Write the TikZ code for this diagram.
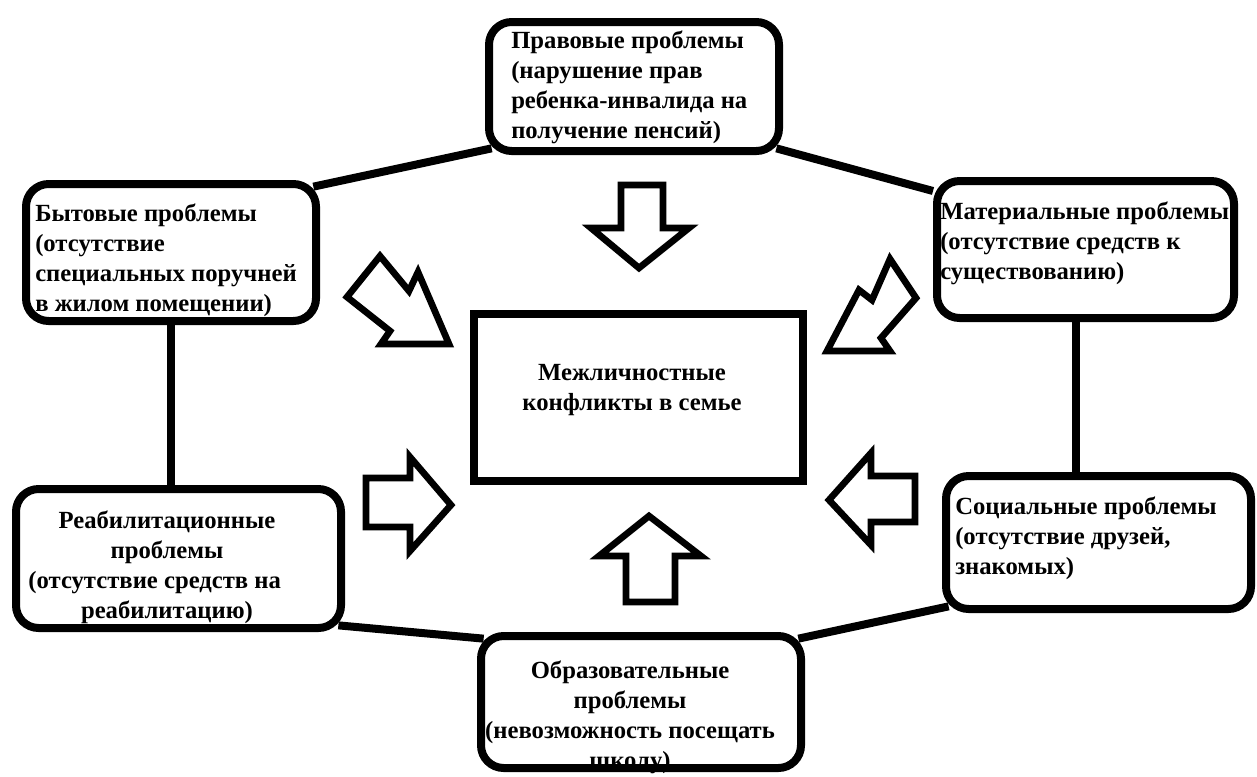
\documentclass[tikz,border=0pt]{standalone}
\usepackage{fontspec}
\setmainfont{Liberation Serif}
\usetikzlibrary{calc}
\begin{document}
\begin{tikzpicture}[x=0.75pt,y=-0.75pt,
  box/.style={draw, line width=6pt, rounded corners=17pt, inner sep=0pt, fill=white},
  cbox/.style={draw, line width=6pt, inner sep=0pt, fill=white},
  txt/.style={font=\bfseries\fontsize{18.5}{22.5}\selectfont, inner sep=0pt},
  conn/.style={line width=6pt},
  barrow/.style={draw, line width=5pt, fill=white, line join=miter}]
\useasboundingbox (0,0) rectangle (1257,776);

% boxes
\node[box, minimum width=217.5pt, minimum height=96.75pt] (top) at (634,86.5) {};
\node[box, minimum width=217.5pt, minimum height=102.75pt] (byt) at (171,252.5) {};
\node[box, minimum width=222.75pt, minimum height=102.75pt] (mat) at (1085.5,249.5) {};
\node[box, minimum width=243.75pt, minimum height=104.25pt] (reab) at (178.5,558.5) {};
\node[box, minimum width=228.75pt, minimum height=99.75pt] (soc) at (1098.5,542.5) {};
\node[box, minimum width=240pt, minimum height=99pt] (obr) at (641,702) {};
\node[cbox, minimum width=246.75pt, minimum height=125.25pt] (mid) at (638.5,397.5) {};

% texts
\node[txt, anchor=west, align=left] (ttop) at (511,87)
  {Правовые проблемы\\(нарушение прав\\ребенка-инвалида на\\получение пенсий)};
\node[txt, anchor=west, align=left] (tbyt) at (35,260)
  {Бытовые проблемы\\(отсутствие\\специальных поручней\\в жилом помещении)};
\node[txt, anchor=west, align=left] (tmat) at (940,243)
  {Материальные проблемы\\(отсутствие средств к\\существованию)};
\node[txt, align=center] (treab) at (167,567)
  {Реабилитационные\\проблемы\\(отсутствие средств на\hphantom{xx}\\реабилитацию)};
\node[txt, anchor=west, align=left] (tsoc) at (955,538)
  {Социальные проблемы\\(отсутствие друзей,\\знакомых)};
\node[txt, align=center] (tobr) at (630,717)
  {Образовательные\\проблемы\\(невозможность посещать\\школу)};
\node[txt, align=center] (tmid) at (632,390)
  {Межличностные\\конфликты в семье};

% connectors
\draw[conn] ($(top.south west)+(6.65,-6.65)$) -- ($(byt.north east)+(-6.65,6.65)$);
\draw[conn] ($(top.south east)+(-6.65,-6.65)$) -- ($(mat.north west)+(0,14)$);
\draw[conn] (byt.south) -- (reab.north -| byt.south);
\draw[conn] (mat.south -| 1076,0) -- (soc.north -| 1076,0);
\draw[conn] ($(reab.south east)+(-6.65,-6.65)$) -- ($(obr.north west)+(6.65,6.65)$);
\draw[conn] ($(soc.south west)+(6.65,-6.65)$) -- ($(obr.north east)+(-6.65,6.65)$);

% block arrows
\draw[barrow] (621,185) -- (663,185) -- (663,228) -- (689,228) -- (639,268) -- (591,228) -- (621,228) -- cycle;
\draw[barrow] (626,602) -- (675,602) -- (675,556) -- (701,556) -- (649,516) -- (599,556) -- (626,556) -- cycle;
\draw[barrow] (366,478) -- (410,478) -- (410,457) -- (451,505) -- (410,551) -- (410,527) -- (366,527) -- cycle;
\draw[barrow] (829,500) -- (871,453) -- (871,476) -- (915,476) -- (915,522) -- (871,522) -- (871,545) -- cycle;
\draw[barrow] (347,297) -- (380,256) -- (409,291) -- (418,272) -- (449,344) -- (381,344) -- (390,331) -- cycle;
\draw[barrow] (890,259) -- (916,298) -- (881,338) -- (890,351) -- (827,351) -- (859,290) -- (872,300) -- cycle;
\end{tikzpicture}
\end{document}
